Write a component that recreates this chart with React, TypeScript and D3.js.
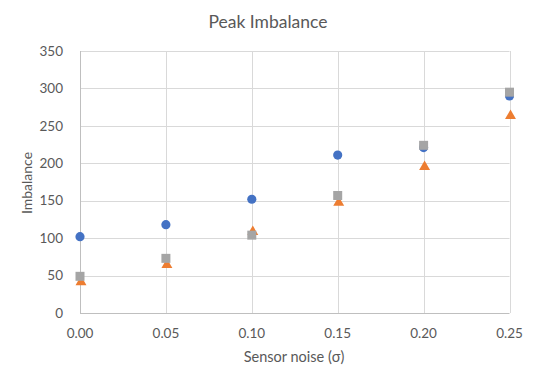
import * as d3 from 'd3'
import { useEffect, useRef } from 'react'

const noise = [0, 0.05, 0.1, 0.15, 0.2, 0.25]
const seriesCircle = [102, 118, 152, 211, 221, 290]
const seriesTriangle = [40, 63, 107, 146, 194, 262]
const seriesSquare = [49, 73, 104, 157, 224, 295]
const xTicks = [0, 0.05, 0.1, 0.15, 0.2, 0.25]
const yTicks = [0, 50, 100, 150, 200, 250, 300, 350]

const W = 538
const H = 383
const FONT = 'Lato, "Open Sans", sans-serif'
const TEXT = '#595959'

export default function App() {
  const ref = useRef<SVGSVGElement>(null)

  useEffect(() => {
    if (!ref.current) return
    const svg = d3.select(ref.current)
    svg.selectAll('*').remove()

    const x = d3.scaleLinear().domain([0, 0.25]).range([80, 509.5])
    const y = d3.scaleLinear().domain([0, 350]).range([313, 51])

    svg.append('rect').attr('width', W).attr('height', H).attr('fill', '#fff')

    // grid
    svg.append('g').selectAll('line.h').data(yTicks.slice(1)).join('line')
      .attr('x1', x(0)).attr('x2', x(0.25))
      .attr('y1', (d) => Math.round(y(d)) + 0.5).attr('y2', (d) => Math.round(y(d)) + 0.5)
      .attr('stroke', '#d9d9d9').attr('stroke-width', 1)
    svg.append('g').selectAll('line.v').data(xTicks.slice(1)).join('line')
      .attr('x1', (d) => Math.round(x(d)) + 0.5).attr('x2', (d) => Math.round(x(d)) + 0.5)
      .attr('y1', y(350)).attr('y2', y(0))
      .attr('stroke', '#d9d9d9').attr('stroke-width', 1)

    // axes lines
    svg.append('line')
      .attr('x1', Math.round(x(0)) + 0.5).attr('x2', Math.round(x(0)) + 0.5)
      .attr('y1', y(350)).attr('y2', y(0))
      .attr('stroke', '#bfbfbf')
    svg.append('line')
      .attr('x1', x(0)).attr('x2', x(0.25))
      .attr('y1', Math.round(y(0)) + 0.5).attr('y2', Math.round(y(0)) + 0.5)
      .attr('stroke', '#bfbfbf')

    // tick labels
    svg.append('g').selectAll('text').data(yTicks).join('text')
      .attr('x', 63).attr('y', (d) => y(d)).attr('dy', '0.35em')
      .attr('text-anchor', 'end')
      .attr('font-family', FONT).attr('font-size', 13.5).attr('fill', TEXT)
      .text((d) => d)
    svg.append('g').selectAll('text').data(xTicks).join('text')
      .attr('x', (d) => x(d)).attr('y', 333).attr('dy', '0.35em')
      .attr('text-anchor', 'middle')
      .attr('font-family', FONT).attr('font-size', 13.5).attr('fill', TEXT)
      .text((d) => d3.format('.2f')(d))

    // titles
    svg.append('text').attr('x', 268).attr('y', 22).attr('dy', '0.35em')
      .attr('text-anchor', 'middle').attr('font-family', FONT)
      .attr('font-size', 17.5).attr('fill', TEXT).text('Peak Imbalance')
    svg.append('text').attr('x', 294).attr('y', 357).attr('dy', '0.35em')
      .attr('text-anchor', 'middle').attr('font-family', FONT)
      .attr('font-size', 14.5).attr('fill', TEXT).text('Sensor noise (σ)')
    svg.append('text')
      .attr('transform', 'translate(27,183) rotate(-90)').attr('dy', '0.35em')
      .attr('text-anchor', 'middle').attr('font-family', FONT)
      .attr('font-size', 14).attr('fill', TEXT).text('Imbalance')

    const sym = (type: d3.SymbolType, size: number) => d3.symbol().type(type).size(size)()

    svg.append('g').selectAll('path').data(noise).join('path')
      .attr('transform', (d, i) => `translate(${x(d)},${y(seriesCircle[i])})`)
      .attr('d', sym(d3.symbolCircle, 66)).attr('fill', '#4472c4')
    svg.append('g').selectAll('path').data(noise).join('path')
      .attr('transform', (d, i) => `translate(${x(d) + 1},${y(seriesTriangle[i]) - 1})`)
      .attr('d', sym(d3.symbolTriangle, 52)).attr('fill', '#ed7d31')
    svg.append('g').selectAll('path').data(noise).join('path')
      .attr('transform', (d, i) => `translate(${x(d)},${y(seriesSquare[i])})`)
      .attr('d', sym(d3.symbolSquare, 81)).attr('fill', '#a5a5a5')
  }, [])

  return <svg ref={ref} width={W} height={H} style={{ position: 'absolute', left: 0, top: 0, display: 'block' }} />
}
